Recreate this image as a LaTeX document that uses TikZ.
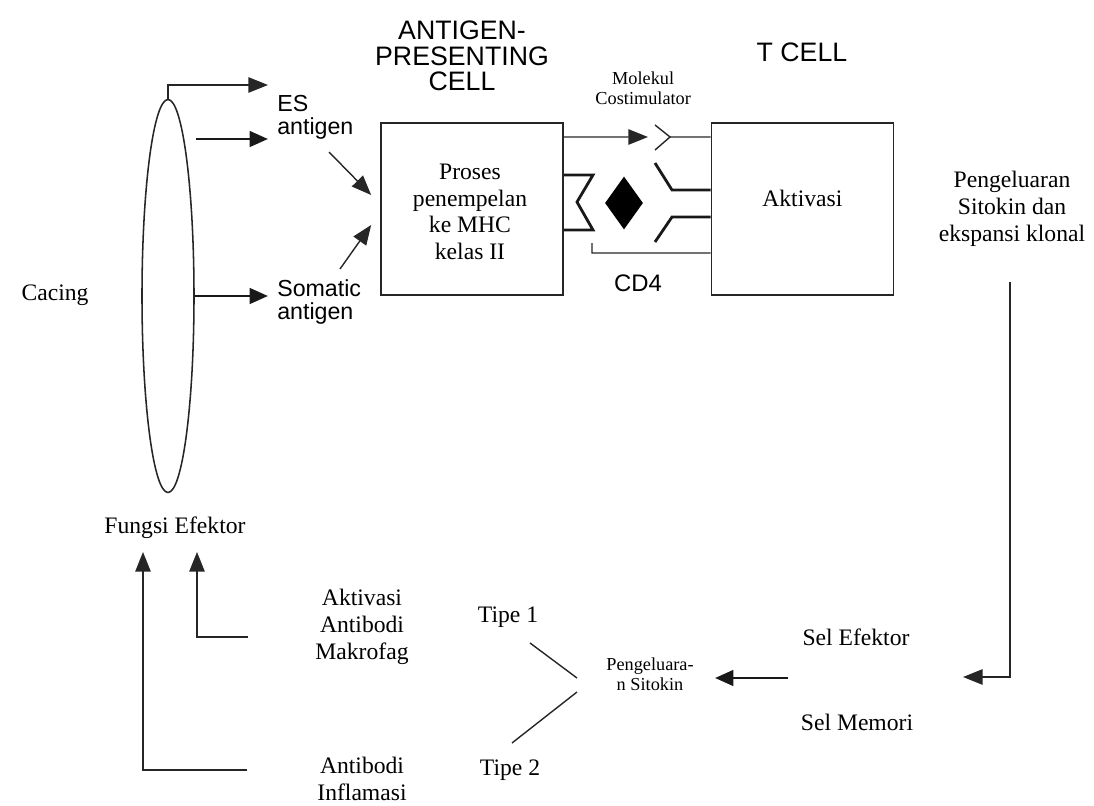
\documentclass[tikz,border=0pt]{standalone}
\usepackage{fontspec}
\setmainfont{Liberation Serif}
\setsansfont{Liberation Sans}
\usetikzlibrary{arrows.meta, positioning, calc, shapes.geometric}

\begin{document}
\begin{tikzpicture}[
  teks/.style={font=\fontsize{16.8}{19}\selectfont, align=center, inner sep=0pt},
  kecil/.style={font=\fontsize{13}{14.5}\selectfont, align=center, inner sep=0pt},
  sans/.style={font=\sffamily\fontsize{16.5}{16.5}\selectfont, align=left, inner sep=0pt},
  judul/.style={font=\sffamily\fontsize{19}{18}\selectfont, align=center, inner sep=0pt},
  sel/.style={draw=black!85, line width=1.2pt, minimum width=4.55cm,
              minimum height=4.3cm, inner sep=0pt},
  garis/.style={draw=black!85, line width=1pt},
  tebal/.style={draw=black!90, line width=2pt},
  panah/.style={garis, -{Triangle[length=14pt,width=11pt]}},
  panahtb/.style={tebal, -{Triangle[length=13pt,width=11pt]}}
]
\useasboundingbox (0,0) rectangle (27.35,-20.15);

%--------------------------------------------------------------
% Cacing dan antigen
%--------------------------------------------------------------
\node[draw=black!85, line width=1.1pt, ellipse, inner sep=0pt,
      minimum width=1.3cm, minimum height=9.825cm] (cacing) at (4.2,-7.4) {};
\node[teks] (lblcacing) at (1.375,-7.375) {Cacing};

\node[sans, anchor=west] (es) at (6.925,-2.93) {ES\\antigen};
\node[sans, anchor=west] (somatic) at (6.925,-7.55) {Somatic\\antigen};

\coordinate (esatas) at (6.7,-2.125);
\coordinate (esmulai) at (4.9,-3.475);
\coordinate (esujung) at (6.7,-3.475);
\coordinate (somujung) at (6.7,-7.4);

\draw[panah] (cacing.north) |- (esatas);
\draw[panahtb] (esmulai) -- (esujung);
\draw[panahtb] (cacing.east) -- (somujung);

%--------------------------------------------------------------
% Antigen-presenting cell dan T cell
%--------------------------------------------------------------
\node[judul] (jdlapc) at (11.55,-1.4) {ANTIGEN-\\PRESENTING\\CELL};
\node[judul] (jdltcell) at (20.05,-1.3) {T CELL};

\node[sel] (apc) at (11.8,-5.225) {};
\node[teks] (proses) at (11.75,-5.3) {Proses\\penempelan\\ke MHC\\kelas II};
\node[sel] (tcell) at (20.06,-5.225) {};
\node[teks] (aktivasi) at (20.06,-4.95) {Aktivasi};

\coordinate (esmiring) at (8.225,-3.8);
\coordinate (sommiring) at (8.5,-6.725);
\draw[panah] (esmiring) -- ([shift={(-0.225,0.35)}]apc.west);
\draw[panah] (sommiring) -- ([shift={(-0.225,-0.4)}]apc.west);

%--------------------------------------------------------------
% Molekul costimulator, MHC dan CD4
%--------------------------------------------------------------
\node[kecil] (costim) at (16.08,-2.2) {Molekul\\Costimulator};
\draw[panah] ([yshift=1.8cm]apc.east) -- (16.2,-3.425);
\draw[garis] (16.375,-3.125) -- (16.75,-3.425) -- (16.375,-3.75);
\draw[garis] (16.75,-3.425) -- ([yshift=1.8cm]tcell.west);

\draw[tebal] ([yshift=0.85cm]apc.east) -- (14.825,-4.375) -- (14.425,-5.05)
  -- (14.825,-5.75) -- ([yshift=-0.525cm]apc.east);
\node[diamond, fill=black, draw=none, inner sep=0pt,
      minimum width=0.95cm, minimum height=1.325cm] (mhc) at (15.6,-5.075) {};
\draw[tebal] (16.375,-4.075) -- (16.8,-4.75) -- ([yshift=0.475cm]tcell.west);
\draw[tebal] ([yshift=-0.2cm]tcell.west) -- (16.8,-5.425) -- (16.375,-6.05);

\draw[garis] (14.8,-6.075) -- (14.8,-6.325) -- ([yshift=-1.1cm]tcell.west);
\node[font=\sffamily\fontsize{17}{17}\selectfont, inner sep=0pt] (cd4) at (15.95,-7.075) {CD4};

%--------------------------------------------------------------
% Sitokin dan sel efektor
%--------------------------------------------------------------
\node[teks] (ekspansi) at (25.3,-5.225) {Pengeluaran\\Sitokin dan\\ekspansi klonal};
\coordinate (kanan) at (25.25,-7.05);
\coordinate (kananujung) at (24.075,-16.925);
\draw[panah] (kanan) |- (kananujung);

\node[teks] (efektor) at (21.4,-15.925) {Sel Efektor};
\node[teks] (memori) at (21.425,-18.05) {Sel Memori};

\node[kecil] (sitokin) at (16.25,-16.85) {Pengeluara-\\n Sitokin};
\coordinate (sitmulai) at (19.7,-16.95);
\draw[panahtb] (sitmulai) -- (17.875,-16.95);

\draw[garis] (13.25,-16.075) -- (14.425,-16.95);
\draw[garis] (14.425,-17.3) -- (12.8,-18.575);
\node[teks] (tipe1) at (12.7,-15.425) {Tipe 1};
\node[teks] (tipe2) at (12.75,-19.25) {Tipe 2};

%--------------------------------------------------------------
% Fungsi efektor
%--------------------------------------------------------------
\node[teks] (makrofag) at (9.05,-15.675) {Aktivasi\\Antibodi\\Makrofag};
\node[teks] (inflamasi) at (9.05,-19.475) {Antibodi\\Inflamasi};
\node[teks] (fungsi) at (4.375,-13.2) {Fungsi Efektor};

\coordinate (infkiri) at (6.175,-19.25);
\coordinate (makkiri) at (6.2,-15.925);
\draw[panah] (infkiri) -| (3.575,-13.8);
\draw[panah] (makkiri) -| (4.925,-13.8);

\end{tikzpicture}
\end{document}
